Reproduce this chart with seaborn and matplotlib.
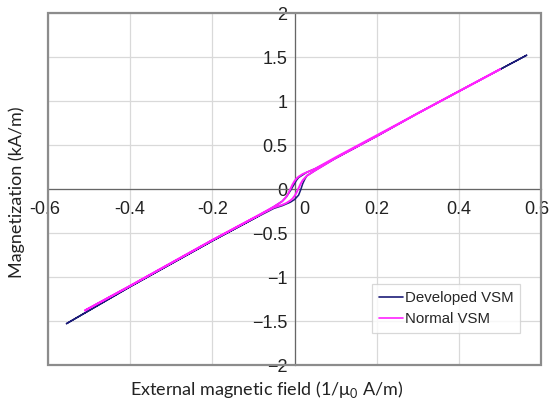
# -*- coding: utf-8 -*-
import numpy as np
import pandas as pd
import matplotlib
matplotlib.use("Agg")
import matplotlib.pyplot as plt
import matplotlib.transforms as mtransforms
from matplotlib.patches import Rectangle
from matplotlib.lines import Line2D
import seaborn as sns

# Developed VSM: descending branch then ascending branch
dev_down_x = [0.565, 0.40, 0.30, 0.20, 0.10, 0.05, 0.03, 0.02, 0.01, 0.005, 0.0,
              -0.005, -0.01, -0.02, -0.03, -0.05, -0.10, -0.20, -0.30, -0.40, -0.555]
dev_down_y = [1.52, 1.11, 0.86, 0.60, 0.35, 0.23, 0.19, 0.16, 0.13, 0.10, 0.06,
              0.02, -0.02, -0.09, -0.14, -0.20, -0.34, -0.59, -0.85, -1.11, -1.53]
dev_up_x = [-0.555, -0.40, -0.30, -0.20, -0.10, -0.05, -0.03, -0.02, -0.01, 0.0,
            0.01, 0.015, 0.02, 0.025, 0.03, 0.05, 0.10, 0.20, 0.30, 0.40, 0.565]
dev_up_y = [-1.53, -1.11, -0.85, -0.59, -0.34, -0.22, -0.19, -0.17, -0.15, -0.12,
            -0.07, -0.01, 0.06, 0.11, 0.15, 0.21, 0.35, 0.60, 0.86, 1.11, 1.52]

# Normal VSM
nor_down_x = [0.50, 0.40, 0.30, 0.20, 0.10, 0.05, 0.03, 0.02, 0.01, 0.005, 0.0,
              -0.005, -0.01, -0.015, -0.02, -0.03, -0.05, -0.10, -0.20, -0.30, -0.40, -0.51]
nor_down_y = [1.36, 1.11, 0.86, 0.61, 0.36, 0.23, 0.19, 0.17, 0.14, 0.12, 0.09,
              0.05, 0.00, -0.05, -0.09, -0.14, -0.20, -0.33, -0.58, -0.84, -1.10, -1.38]
nor_up_x = [-0.51, -0.40, -0.30, -0.20, -0.10, -0.05, -0.03, -0.02, -0.01, -0.005, 0.0,
            0.005, 0.01, 0.015, 0.02, 0.03, 0.05, 0.10, 0.20, 0.30, 0.40, 0.50]
nor_up_y = [-1.38, -1.10, -0.84, -0.58, -0.33, -0.21, -0.18, -0.16, -0.13, -0.11, -0.08,
            -0.04, 0.01, 0.06, 0.10, 0.15, 0.21, 0.35, 0.60, 0.86, 1.11, 1.36]

x_ticks = [-0.6, -0.4, -0.2, 0, 0.2, 0.4, 0.6]
x_tick_labels = ["-0.6", "-0.4", "-0.2", "0", "0.2", "0.4", "0.6"]
y_ticks = [-2, -1.5, -1, -0.5, 0, 0.5, 1, 1.5, 2]
y_tick_labels = ["\u22122", "\u22121.5", "\u22121", "\u22120.5", "0", "0.5", "1", "1.5", "2"]

df = pd.concat([
    pd.DataFrame({"H": dev_down_x + dev_up_x, "M": dev_down_y + dev_up_y,
                  "series": "Developed VSM"}),
    pd.DataFrame({"H": nor_down_x + nor_up_x, "M": nor_down_y + nor_up_y,
                  "series": "Normal VSM"}),
], ignore_index=True)

sns.set_theme(style="white")
plt.rcParams["font.family"] = ["Liberation Sans", "DejaVu Sans"]
plt.rcParams["mathtext.fontset"] = "custom"
plt.rcParams["mathtext.rm"] = "Lato"

fig = plt.figure(figsize=(5.51, 4.03), dpi=100)
ax = fig.add_axes([48 / 551, 38 / 403, 493 / 551, 352 / 403])

palette = {"Developed VSM": "#1c1c78", "Normal VSM": "#ff22ff"}
sns.lineplot(data=df, x="H", y="M", hue="series", units="series", estimator=None,
             sort=False, palette=palette, ax=ax, legend=False)
lw = {"Developed VSM": 1.1, "Normal VSM": 1.4}
for line, name in zip(ax.get_lines(), ["Developed VSM", "Normal VSM"]):
    line.set_linewidth(lw[name])
# Normal VSM drawn on top
ax.get_lines()[1].set_zorder(4)
ax.get_lines()[0].set_zorder(3)

ax.set_xlim(-0.6, 0.6)
ax.set_ylim(-2, 2)
ax.set_xticks(x_ticks)
ax.set_xticklabels(x_tick_labels)
ax.set_yticks(y_ticks)
ax.set_yticklabels(y_tick_labels)

ax.grid(True, color="#d9d9d9", linewidth=0.9)
ax.set_axisbelow(True)

for s in ["top", "right"]:
    ax.spines[s].set_visible(False)
ax.spines["bottom"].set_position(("data", 0))
ax.spines["left"].set_position(("data", 0))
for s in ["bottom", "left"]:
    ax.spines[s].set_color("#666666")
    ax.spines[s].set_linewidth(0.9)
    ax.spines[s].set_zorder(2.5)

ax.add_patch(Rectangle((0, 0), 1, 1, transform=ax.transAxes, fill=False,
                       edgecolor="#8c8c8c", linewidth=1.6, clip_on=False, zorder=5))

ax.tick_params(axis="both", length=0, labelsize=13, colors="#222222")
ax.tick_params(axis="x", pad=9)
ax.tick_params(axis="y", pad=5)
# small label nudges like the original
shifts = {"0": 7, "0.6": -3, "-0.6": -2}
for lab in ax.get_xticklabels():
    dx = shifts.get(lab.get_text())
    if dx:
        lab.set_transform(lab.get_transform() +
                          mtransforms.ScaledTranslation(dx / 72, 0, fig.dpi_scale_trans))

ax.set_xlabel("")
ax.set_ylabel("")
fig.text(267 / 551, 1 - 390 / 403, "External magnetic field (1/\u03bc$_0$ A/m)",
         ha="center", va="center", fontsize=13, family=["Lato", "DejaVu Sans"], color="#222222")
fig.text(17 / 551, 1 - 192 / 403, "Magnetization (kA/m)", rotation=90,
         ha="center", va="center", fontsize=13, family=["Lato", "DejaVu Sans"], color="#222222")

handles = [Line2D([], [], color=palette[k], linewidth=1.2) for k in palette]
leg = ax.legend(handles, list(palette), loc="lower right",
                bbox_to_anchor=((520 - 48) / 493, (365 - 333) / 352),
                borderaxespad=0, frameon=True, fancybox=False, fontsize=10.8,
                handlelength=1.6, handletextpad=0.1, labelspacing=0.5,
                borderpad=0.45)
leg.get_frame().set_edgecolor("#cfcfcf")
leg.get_frame().set_linewidth(0.9)
leg.set_zorder(6)

fig.savefig("out.png", dpi=100)
